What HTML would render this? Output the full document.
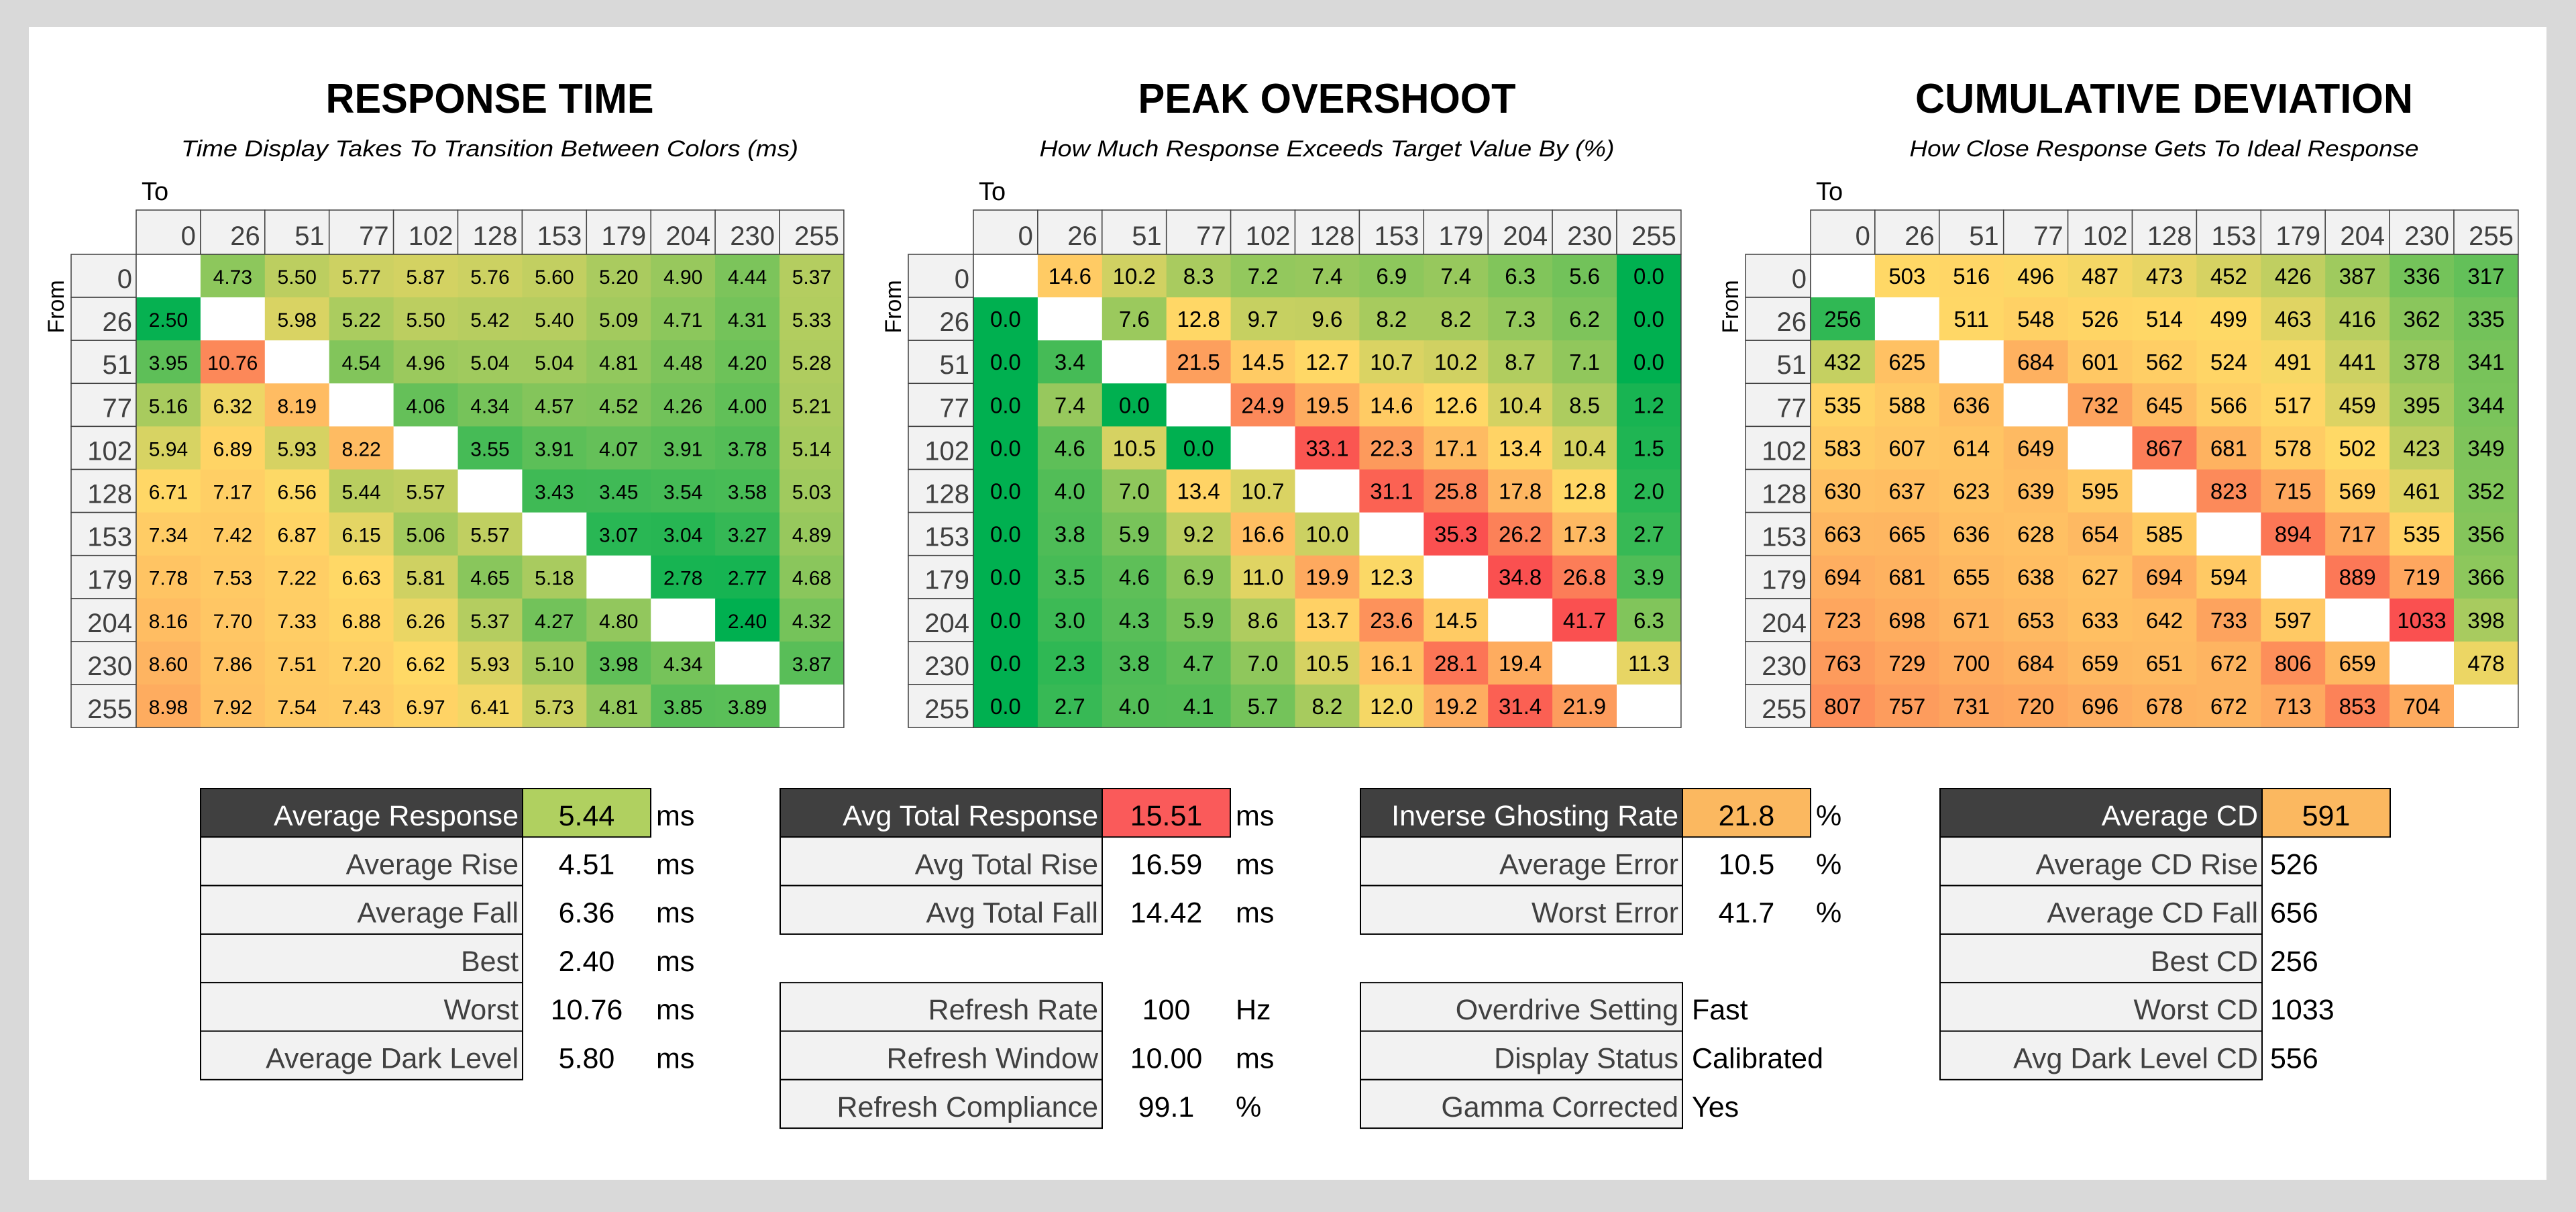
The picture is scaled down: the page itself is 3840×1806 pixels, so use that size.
<!DOCTYPE html>
<html><head><meta charset="utf-8"><style>
html,body{margin:0;padding:0;background:#d9d9d9;}
svg{display:block;font-family:"Liberation Sans",sans-serif;}
</style></head><body>
<svg id="chart" width="3840" height="1806" viewBox="0 0 3840 1806" xmlns="http://www.w3.org/2000/svg">
<rect x="0" y="0" width="3840" height="1806" fill="#d9d9d9"/>
<rect x="43" y="40" width="3753" height="1718" fill="#ffffff"/>
</svg>
<script>
const levels = [0,26,51,77,102,128,153,179,204,230,255];
const rtValues = [
[null,4.73,5.50,5.77,5.87,5.76,5.60,5.20,4.90,4.44,5.37],
[2.50,null,5.98,5.22,5.50,5.42,5.40,5.09,4.71,4.31,5.33],
[3.95,10.76,null,4.54,4.96,5.04,5.04,4.81,4.48,4.20,5.28],
[5.16,6.32,8.19,null,4.06,4.34,4.57,4.52,4.26,4.00,5.21],
[5.94,6.89,5.93,8.22,null,3.55,3.91,4.07,3.91,3.78,5.14],
[6.71,7.17,6.56,5.44,5.57,null,3.43,3.45,3.54,3.58,5.03],
[7.34,7.42,6.87,6.15,5.06,5.57,null,3.07,3.04,3.27,4.89],
[7.78,7.53,7.22,6.63,5.81,4.65,5.18,null,2.78,2.77,4.68],
[8.16,7.70,7.33,6.88,6.26,5.37,4.27,4.80,null,2.40,4.32],
[8.60,7.86,7.51,7.20,6.62,5.93,5.10,3.98,4.34,null,3.87],
[8.98,7.92,7.54,7.43,6.97,6.41,5.73,4.81,3.85,3.89,null]];
const osValues = [
[null,14.6,10.2,8.3,7.2,7.4,6.9,7.4,6.3,5.6,0.0],
[0.0,null,7.6,12.8,9.7,9.6,8.2,8.2,7.3,6.2,0.0],
[0.0,3.4,null,21.5,14.5,12.7,10.7,10.2,8.7,7.1,0.0],
[0.0,7.4,0.0,null,24.9,19.5,14.6,12.6,10.4,8.5,1.2],
[0.0,4.6,10.5,0.0,null,33.1,22.3,17.1,13.4,10.4,1.5],
[0.0,4.0,7.0,13.4,10.7,null,31.1,25.8,17.8,12.8,2.0],
[0.0,3.8,5.9,9.2,16.6,10.0,null,35.3,26.2,17.3,2.7],
[0.0,3.5,4.6,6.9,11.0,19.9,12.3,null,34.8,26.8,3.9],
[0.0,3.0,4.3,5.9,8.6,13.7,23.6,14.5,null,41.7,6.3],
[0.0,2.3,3.8,4.7,7.0,10.5,16.1,28.1,19.4,null,11.3],
[0.0,2.7,4.0,4.1,5.7,8.2,12.0,19.2,31.4,21.9,null]];
const cdValues = [
[null,503,516,496,487,473,452,426,387,336,317],
[256,null,511,548,526,514,499,463,416,362,335],
[432,625,null,684,601,562,524,491,441,378,341],
[535,588,636,null,732,645,566,517,459,395,344],
[583,607,614,649,null,867,681,578,502,423,349],
[630,637,623,639,595,null,823,715,569,461,352],
[663,665,636,628,654,585,null,894,717,535,356],
[694,681,655,638,627,694,594,null,889,719,366],
[723,698,671,653,633,642,733,597,null,1033,398],
[763,729,700,684,659,651,672,806,659,null,478],
[807,757,731,720,696,678,672,713,853,704,null]];
const rtStatLabels = ["Average Response","Average Rise","Average Fall","Best","Worst","Average Dark Level"];
const rtStatValues = ["5.44","4.51","6.36","2.40","10.76","5.80"];
const osStatLabels = ["Avg Total Response","Avg Total Rise","Avg Total Fall",null,"Refresh Rate","Refresh Window","Refresh Compliance"];
const osStatValues = ["15.51","16.59","14.42",null,"100","10.00","99.1"];
const osStatUnits = ["ms","ms","ms",null,"Hz","ms","%"];
const igStatLabels = ["Inverse Ghosting Rate","Average Error","Worst Error",null,"Overdrive Setting","Display Status","Gamma Corrected"];
const igStatValues = ["21.8","10.5","41.7",null,"Fast","Calibrated","Yes"];
const igStatUnits = ["%","%","%",null,"","",""];
const cdStatLabels = ["Average CD","Average CD Rise","Average CD Fall","Best CD","Worst CD","Avg Dark Level CD"];
const cdStatValues = ["591","526","656","256","1033","556"];

const NS="http://www.w3.org/2000/svg";
const svg=document.getElementById('chart');
function mk(tag,attrs,parent){const e=document.createElementNS(NS,tag);for(const k in attrs)e.setAttribute(k,attrs[k]);(parent||svg).appendChild(e);return e;}
function txt(s,attrs,parent){const e=mk('text',attrs,parent);e.textContent=s;return e;}
const G=[0,176,80],Y=[255,217,102],Y2=[255,200,100],R=[250,80,80];
function mix(a,b,t){t=Math.max(0,Math.min(1,t));return 'rgb('+a.map((v,i)=>Math.round(v+(b[i]-v)*t)).join(',')+')';}
function color(v,lo,mid,mid2,hi){
  if(v<=mid)return mix(G,Y,(v-lo)/(mid-lo));
  if(v<=mid2)return mix(Y,Y2,(v-mid)/(mid2-mid));
  return mix(Y2,R,(v-mid2)/(hi-mid2));
}

const colW=95.9,rowH=64.1,headTop=313,headH=66,rowTop=379,labW=97;
function heat(ox,vals,fmt,lo,mid,mid2,hi,fs,key,title,tw,sub,sw){
  const g=mk('g',{});
  
  
  const t=txt(title,{x:ox+527,y:168,'text-anchor':'middle','font-size':62,'font-weight':'bold',textLength:tw,lengthAdjust:'spacingAndGlyphs',fill:'#000'},g);
  
  
  const s=txt(sub,{x:ox+527,y:233,'text-anchor':'middle','font-size':34,'font-style':'italic',textLength:sw,lengthAdjust:'spacingAndGlyphs',fill:'#000'},g);
  
  
  const to=txt('To',{x:ox+8,y:298,'font-size':38,fill:'#000'},g);
  
  
  const fr=txt('From',{x:0,y:0,'font-size':34,fill:'#000','text-anchor':'middle',transform:'translate('+(ox-108)+',457) rotate(-90)'},g);
  
  
  levels.forEach((lv,i)=>{
    const x=ox+i*colW;
    const r=mk('rect',{x:x,y:headTop,width:colW,height:headH,fill:'#f2f2f2',stroke:'#404040','stroke-width':1.5},g);
    
    
    const tl=txt(String(lv),{x:x+colW-7,y:headTop+52,'text-anchor':'end','font-size':40,fill:'#404040'},g);
    
    
    const y=rowTop+i*rowH;
    const rr=mk('rect',{x:ox-labW,y:y,width:labW,height:rowH,fill:'#f2f2f2',stroke:'#404040','stroke-width':1.5},g);
    
    
    const rl=txt(String(lv),{x:ox-6,y:y+50,'text-anchor':'end','font-size':40,fill:'#404040'},g);
    
    
  });
  vals.forEach((row,ri)=>row.forEach((v,ci)=>{
    const x=ox+ci*colW,y=rowTop+ri*rowH;
    const c=mk('rect',{x:x,y:y,width:colW+0.5,height:rowH+0.5,fill:v===null?'#ffffff':color(v,lo,mid,mid2,hi)},g);
    
    
    if(v!==null){
      const ct=txt(fmt(v),{x:x+colW/2,y:y+44,'text-anchor':'middle','font-size':fs,fill:'#000'},g);
      
      
    }
  }));
  mk('rect',{x:ox,y:rowTop,width:colW*11,height:rowH*11,fill:'none',stroke:'#404040','stroke-width':1.5},g);
}
heat(203,rtValues,v=>v.toFixed(2),2.4,6.6,7.6,13.5,30,'response-time','RESPONSE TIME',489,'Time Display Takes To Transition Between Colors (ms)',920);
heat(1451,osValues,v=>v.toFixed(1),0,12.5,15,34,33,'peak-overshoot','PEAK OVERSHOOT',563,'How Much Response Exceeds Target Value By (%)',857);
heat(2699,cdValues,v=>String(v),200,500,600,1033,33,'cumulative-deviation','CUMULATIVE DEVIATION',742,'How Close Response Gets To Ideal Response',759);

const sTop=1175,sH=72.3,lw=480,vw=191;
function stats(ox,labels,values,units,hiColor,key,valAlign){
  const g=mk('g',{});
  
  
  labels.forEach((lab,i)=>{
    if(lab===null)return;
    const y=sTop+i*sH,head=i===0;
    const r=mk('rect',{x:ox,y:y,width:lw,height:sH,fill:head?'#404040':'#f2f2f2',stroke:'#000','stroke-width':2},g);
    
    
    const t=txt(lab,{x:ox+lw-6,y:y+55,'text-anchor':'end','font-size':43,fill:head?'#ffffff':'#404040'},g);
    
    
    if(head){
      const vr=mk('rect',{x:ox+lw,y:y,width:vw,height:sH,fill:hiColor,stroke:'#000','stroke-width':2},g);
      
      
    }
    let vx=ox+lw+vw/2,anc='middle';
    if(!head&&valAlign==='left'){vx=ox+lw+12;anc='start';}
    if(!head&&valAlign==='mixed'&&isNaN(parseFloat(values[i]))){vx=ox+lw+14;anc='start';}
    const v=txt(values[i],{x:vx,y:y+55,'text-anchor':anc,'font-size':43,fill:'#000'},g);
    
    
    if(units&&units[i]){
      const u=txt(units[i],{x:ox+lw+vw+8,y:y+55,'font-size':43,fill:'#000'},g);
      
      
    }
  });
}
stats(299,rtStatLabels,rtStatValues,rtStatLabels.map(()=>'ms'),'rgb(176,208,96)','response','center');
stats(1163,osStatLabels,osStatValues,osStatUnits,'rgb(250,90,90)','overshoot','center');
stats(2028,igStatLabels,igStatValues,igStatUnits,'rgb(251,184,96)','ghosting','mixed');
stats(2892,cdStatLabels,cdStatValues,null,'rgb(251,184,96)','deviation','left');
</script>
</body></html>
